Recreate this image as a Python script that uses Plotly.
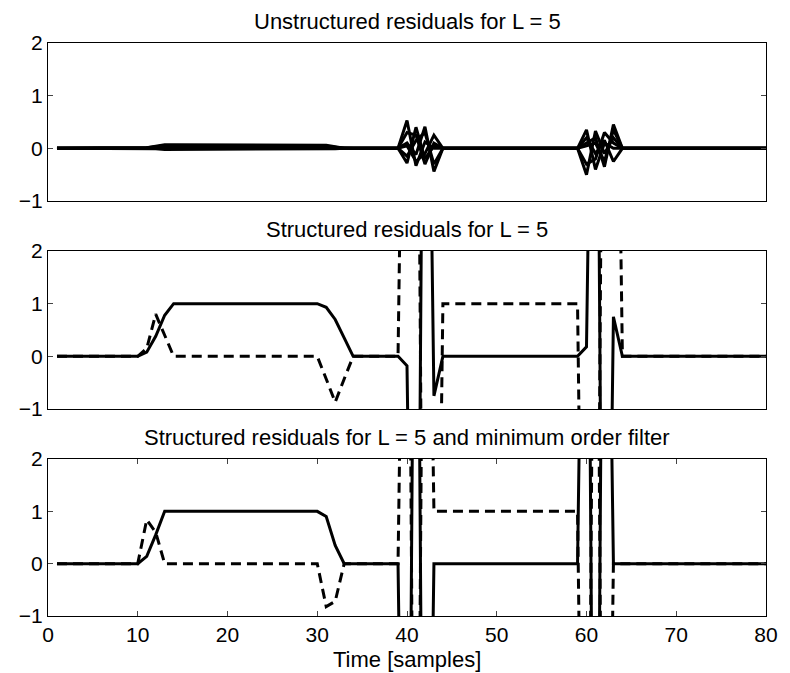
import plotly.graph_objects as go

# ---------------- data ----------------
t = list(range(1, 81))

# Top panel: unstructured residuals (several overlapping residual series)
u1 = [0]*10 + [0.01, 0.04] + [0.07]*18 + [0.06, 0.03] + [0]*7 + [0.53, -0.33, 0.12, 0.0] + [0]*16 + [0.35, -0.40, 0.10, 0.0] + [0]*17
u2 = [0]*10 + [0.01, 0.03] + [0.05]*18 + [0.04, 0.02] + [0]*7 + [-0.28, 0.40, -0.20, 0.05] + [0]*16 + [-0.50, 0.33, -0.10, 0.20] + [0]*17
u3 = [0]*10 + [0.01, 0.02] + [0.03]*18 + [0.03, 0.01] + [0]*7 + [0.10, -0.12, 0.41, -0.44] + [0]*16 + [0.10, 0.20, -0.35, 0.45] + [0]*17
u4 = [0]*10 + [0.00, 0.01] + [0.01]*18 + [0.01, 0.00] + [0]*7 + [0.30, 0.25, -0.30, 0.10] + [0]*16 + [-0.30, -0.20, 0.30, 0.10] + [0]*17
u5 = [0]*10 + [0.00, -0.01] + [-0.01]*18 + [-0.01, 0.00] + [0]*7 + [-0.15, 0.15, 0.30, -0.30] + [0]*16 + [0.20, -0.10, 0.15, -0.25] + [0]*17
u6 = [0]*10 + [-0.01, -0.01] + [-0.02]*18 + [-0.02, -0.01] + [0]*7 + [0.05, -0.25, -0.10, 0.25] + [0]*16 + [0.05, 0.10, -0.25, 0.35] + [0]*17
unstructured = [u1, u2, u3, u4, u5, u6]

# Middle panel: structured residuals (solid and dashed)
s2 = [0]*10 + [0.08, 0.38, 0.78] + [1.0]*17 + [0.93, 0.70, 0.35] + [0]*6 + [-0.18, -12, 12, -0.75] + [0]*16 + [0.18, 12, -12, 0.75] + [0]*17
d2 = [0]*10 + [0.15, 0.80, 0.40] + [0]*17 + [-0.43, -0.87, -0.43] + [0]*6 + [12, 12, -12, -12] + [1.0]*16 + [-12, -12, 12, 12] + [0]*17

# Bottom panel: structured residuals, minimum order filter
s3 = [0]*10 + [0.14, 0.55] + [1.0]*18 + [0.90, 0.35] + [0]*7 + [-12, 12, -12] + [0]*17 + [12, -12, 12] + [0]*18
d3 = [0]*10 + [0.84, 0.60] + [0]*18 + [-0.82, -0.72] + [0]*7 + [12, -12, 12] + [1.0]*17 + [-12, 12, -12] + [0]*18

titles = ["Unstructured residuals for L = 5",
          "Structured residuals for L = 5",
          "Structured residuals for L = 5 and minimum order filter"]
x_ticks = [0, 10, 20, 30, 40, 50, 60, 70, 80]
y_ticks = [-1, 0, 1, 2]
x_label = "Time [samples]"

# ---------------- figure ----------------
FONT = "Liberation Sans, Arial, Helvetica, sans-serif"
FS = 22
TFS = 21
LW = 3
DASH = "10px,6px"

fig = go.Figure()
for u in unstructured:
    fig.add_trace(go.Scatter(x=t, y=u, mode="lines", line=dict(color="black", width=LW),
                             xaxis="x", yaxis="y", showlegend=False, hoverinfo="skip"))
fig.add_trace(go.Scatter(x=t, y=s2, mode="lines", line=dict(color="black", width=LW),
                         xaxis="x2", yaxis="y2", showlegend=False))
fig.add_trace(go.Scatter(x=t, y=d2, mode="lines", line=dict(color="black", width=LW, dash=DASH),
                         xaxis="x2", yaxis="y2", showlegend=False))
fig.add_trace(go.Scatter(x=t, y=s3, mode="lines", line=dict(color="black", width=LW),
                         xaxis="x3", yaxis="y3", showlegend=False))
fig.add_trace(go.Scatter(x=t, y=d3, mode="lines", line=dict(color="black", width=LW, dash=DASH),
                         xaxis="x3", yaxis="y3", showlegend=False))

H_PLOT = 573.0
def dom(top_px, bot_px):
    return [(616 - bot_px) / H_PLOT, (616 - top_px) / H_PLOT]

domains = [dom(43, 201), dom(251, 409), dom(459, 616)]

common_axis = dict(showline=True, linecolor="black", linewidth=1, mirror=True,
                   showgrid=False, zeroline=False,
                   tickfont=dict(family=FONT, size=TFS, color="black"))

layout = dict(width=790, height=673,
              margin=dict(l=48, r=18, t=43, b=57),
              paper_bgcolor="white", plot_bgcolor="white",
              font=dict(family=FONT, size=FS, color="black"),
              showlegend=False)

for i in range(3):
    xa = "xaxis" if i == 0 else f"xaxis{i+1}"
    ya = "yaxis" if i == 0 else f"yaxis{i+1}"
    xref = "y" if i == 0 else f"y{i+1}"
    yref = "x" if i == 0 else f"x{i+1}"
    xdict = dict(common_axis, domain=[0, 1], range=[0, 80], anchor=xref)
    if i < 2:
        xdict.update(showticklabels=False, ticks="")
    else:
        xdict.update(tickvals=x_ticks, ticks="inside", ticklen=5, tickcolor="#444",
                     mirror="allticks")
    ydict = dict(common_axis, domain=domains[i], range=[-1, 2], anchor=yref,
                 tickvals=y_ticks, ticks="inside", ticklen=5, tickcolor="#444",
                 mirror="allticks")
    layout[xa] = xdict
    layout[ya] = ydict

annotations = []
for i, ttl in enumerate(titles):
    annotations.append(dict(text=ttl, xref="paper", yref="paper", x=0.5, y=domains[i][1],
                            xanchor="center", yanchor="bottom", yshift=7, showarrow=False,
                            font=dict(family=FONT, size=FS, color="black")))
annotations.append(dict(text=x_label, xref="paper", yref="paper", x=0.5, y=0,
                        xanchor="center", yanchor="top", yshift=-29, showarrow=False,
                        font=dict(family=FONT, size=FS, color="black")))
layout["annotations"] = annotations

fig.update_layout(**layout)
fig.write_html("out.html")
